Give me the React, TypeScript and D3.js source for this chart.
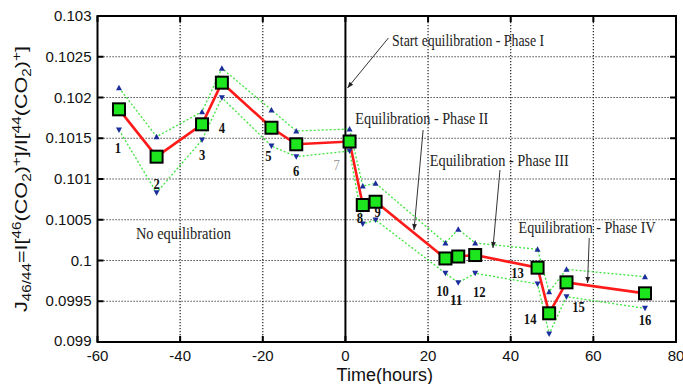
import React from "react";
import * as d3 from "d3";

// ---- data ----
const times = [-54.8, -45.7, -34.7, -29.9, -17.9, -11.9, 1.0, 4.2, 7.3, 24.2, 27.3, 31.4, 46.5, 49.3, 53.5, 72.5];
const ratio = [0.101855, 0.101274, 0.101671, 0.102182, 0.101629, 0.101426, 0.10146, 0.100681, 0.100721, 0.100025, 0.100049, 0.100067, 0.099912, 0.099352, 0.099732, 0.099597];
const upper = [0.10212, 0.101519, 0.101826, 0.102358, 0.101847, 0.101589, 0.101613, 0.100914, 0.100947, 0.100215, 0.100383, 0.100215, 0.100137, 0.099617, 0.099892, 0.099801];
const lower = [0.101601, 0.100832, 0.101479, 0.101998, 0.101405, 0.101274, 0.101344, 0.100448, 0.100497, 0.099843, 0.099728, 0.099843, 0.099712, 0.099098, 0.099556, 0.099413];
const pointLabels = ["1", "2", "3", "4", "5", "6", "7", "8", "9", "10", "11", "12", "13", "14", "15", "16"];
const xTicks = [-60, -40, -20, 0, 20, 40, 60, 80];
const yTicks = [0.099, 0.0995, 0.1, 0.1005, 0.101, 0.1015, 0.102, 0.1025, 0.103];
const yTickLabels = ["0.099", "0.0995", "0.1", "0.1005", "0.101", "0.1015", "0.102", "0.1025", "0.103"];
const noteTexts = ["Start equilibration - Phase I", "Equilibration - Phase II", "Equilibration - Phase III", "Equilibration - Phase IV", "No equilibration"];
const noteX = [11.3, 2.4, 20.4, 41.9, -50.7];
const noteY = [0.102706, 0.101748, 0.101233, 0.100415, 0.100337];
const arrowFromX = [10.4, 18.8, 37.4, 59.0];
const arrowFromY = [0.10273, 0.101601, 0.10111, 0.100276];
const arrowToX = [0.5, 16.6, 35.7, 58.6];
const arrowToY = [0.102117, 0.100374, 0.100153, 0.099724];

// ---- layout (not data) ----
const W = 683, H = 384;
const L = 97.5, R = 676, T = 16, B = 342;
const noteWidths = [152, 133, 139, 137, 95];
const labelDx = [-1, 0, 0, 0, -3, 0, -13, -3, 2, -3, -2, 4, -20, -19, 12, 0];
const labelDy = [39, 27, 31, 45, 28, 27, 23, 13, 10, 33, 43, 37, 5, 6, 25, 27];

export default function App() {
  const x = d3.scaleLinear().domain([-60, 80]).range([L, R]);
  const y = d3.scaleLinear().domain([0.099, 0.103]).range([B, T]);
  const idx = d3.range(times.length);
  const line = d3.line<number>().x((i) => x(times[i])).y((i) => y(ratio[i]));
  const upLine = d3.line<number>().x((i) => x(times[i])).y((i) => y(upper[i]));
  const loLine = d3.line<number>().x((i) => x(times[i])).y((i) => y(lower[i]));
  const serif = "'Liberation Serif', 'Times New Roman', serif";
  const sans = "'Liberation Sans', Arial, sans-serif";
  const tri = (cx: number, cy: number, up: boolean) =>
    up
      ? `M${cx - 3},${cy + 2.5}L${cx + 3},${cy + 2.5}L${cx},${cy - 3}Z`
      : `M${cx - 3},${cy - 2.5}L${cx + 3},${cy - 2.5}L${cx},${cy + 3}Z`;

  return (
    <svg width={W} height={H} style={{ position: "absolute", left: 0, top: 0, background: "#fff" }}>
      <defs>
        <marker id="ah" viewBox="0 0 10 10" refX="10" refY="5" markerWidth="8" markerHeight="6" orient="auto" markerUnits="userSpaceOnUse">
          <path d="M0,1L10,5L0,9Z" fill="#222" />
        </marker>
      </defs>
      <rect x={L} y={T} width={R - L} height={B - T} fill="#fff" />
      {/* grid */}
      {xTicks.filter((t) => t !== -60 && t !== 0 && t !== 80).map((t) => (
        <line key={"gx" + t} x1={x(t)} x2={x(t)} y1={T} y2={B} stroke="#222" strokeWidth={1.2} strokeDasharray="1.2,1.8" />
      ))}
      {yTicks.filter((t, i) => i > 0 && i < yTicks.length - 1).map((t) => (
        <line key={"gy" + t} x1={L} x2={R} y1={y(t)} y2={y(t)} stroke="#222" strokeWidth={1.2} strokeDasharray="1.2,1.8" />
      ))}
      {/* ticks */}
      {xTicks.map((t) => (
        <g key={"tx" + t}>
          <line x1={x(t)} x2={x(t)} y1={B} y2={B - 6} stroke="#000" strokeWidth={2} />
          <line x1={x(t)} x2={x(t)} y1={T} y2={T + 6} stroke="#000" strokeWidth={2} />
          <text x={x(t)} y={B + 19} textAnchor="middle" fontFamily={sans} fontSize={15} fill="#111">{t}</text>
        </g>
      ))}
      {yTicks.map((t, i) => (
        <g key={"ty" + t}>
          <line x1={L} x2={L + 6} y1={y(t)} y2={y(t)} stroke="#000" strokeWidth={2} />
          <line x1={R} x2={R - 6} y1={y(t)} y2={y(t)} stroke="#000" strokeWidth={2} />
          <text x={L - 6} y={y(t) + (i === 0 ? 4 : 5)} textAnchor="end" fontFamily={sans} fontSize={15} fill="#111">{yTickLabels[i]}</text>
        </g>
      ))}
      {/* zero line */}
      <line x1={x(0)} x2={x(0)} y1={T} y2={B} stroke="#000" strokeWidth={2} />
      {/* frame */}
      <rect x={L} y={T} width={R - L} height={B - T} fill="none" stroke="#000" strokeWidth={2} />

      {/* bounds */}
      <path d={upLine(idx) || ""} fill="none" stroke="#3ee63e" strokeWidth={1.3} strokeDasharray="2,2" />
      <path d={loLine(idx) || ""} fill="none" stroke="#3ee63e" strokeWidth={1.3} strokeDasharray="2,2" />
      <path d={line(idx) || ""} fill="none" stroke="#ff1a1a" strokeWidth={2.6} />
      {idx.map((i) => (
        <g key={"tr" + i}>
          <path d={tri(x(times[i]), y(upper[i]), true)} fill="#1c2c9c" />
          <path d={tri(x(times[i]), y(lower[i]), false)} fill="#1c2c9c" />
        </g>
      ))}
      {idx.map((i) => (
        <rect key={"sq" + i} x={x(times[i]) - 6} y={y(ratio[i]) - 6} width={12} height={12} fill="#1ee61e" stroke="#000" strokeWidth={2} />
      ))}
      {idx.map((i) => (
        <text key={"lb" + i} x={x(times[i]) + labelDx[i]} y={y(ratio[i]) + labelDy[i] + 5} textAnchor="middle"
          fontFamily={serif} fontSize={15} fontWeight={i === 6 ? "normal" : "bold"} fill={i === 6 ? "#999" : "#111"}
          textLength={6.3 * pointLabels[i].length} lengthAdjust="spacingAndGlyphs">{pointLabels[i]}</text>
      ))}

      {/* arrows */}
      {arrowFromX.map((ax, i) => (
        <line key={"ar" + i} x1={x(ax)} y1={y(arrowFromY[i])} x2={x(arrowToX[i])} y2={y(arrowToY[i])} stroke="#333" strokeWidth={1} markerEnd="url(#ah)" />
      ))}
      {/* notes */}
      {noteTexts.map((t, i) => (
        <text key={"nt" + i} x={x(noteX[i])} y={y(noteY[i]) + 6} fontFamily={serif} fontSize={17} fill="#222"
          textLength={noteWidths[i]} lengthAdjust="spacingAndGlyphs">{t}</text>
      ))}

      {/* axis titles */}
      <text x={(L + R) / 2 - 2} y={381} textAnchor="middle" fontFamily={sans} fontSize={18} fill="#111">Time(hours)</text>
      <text transform={`translate(27,${(T + B) / 2}) rotate(-90)`} textAnchor="middle" fontFamily={sans} fontSize={17} fill="#111"
        textLength={266} lengthAdjust="spacingAndGlyphs">
        J<tspan fontSize={12} dy={4}>46/44</tspan><tspan dy={-4}>=I[</tspan><tspan fontSize={12} dy={-6}>46</tspan><tspan dy={6}>(CO</tspan><tspan fontSize={12} dy={4}>2</tspan><tspan dy={-4}>)</tspan><tspan fontSize={12} dy={-6}>+</tspan><tspan dy={6}>]/I[</tspan><tspan fontSize={12} dy={-6}>44</tspan><tspan dy={6}>(CO</tspan><tspan fontSize={12} dy={4}>2</tspan><tspan dy={-4}>)</tspan><tspan fontSize={12} dy={-6}>+</tspan><tspan dy={6}>]</tspan>
      </text>
    </svg>
  );
}
